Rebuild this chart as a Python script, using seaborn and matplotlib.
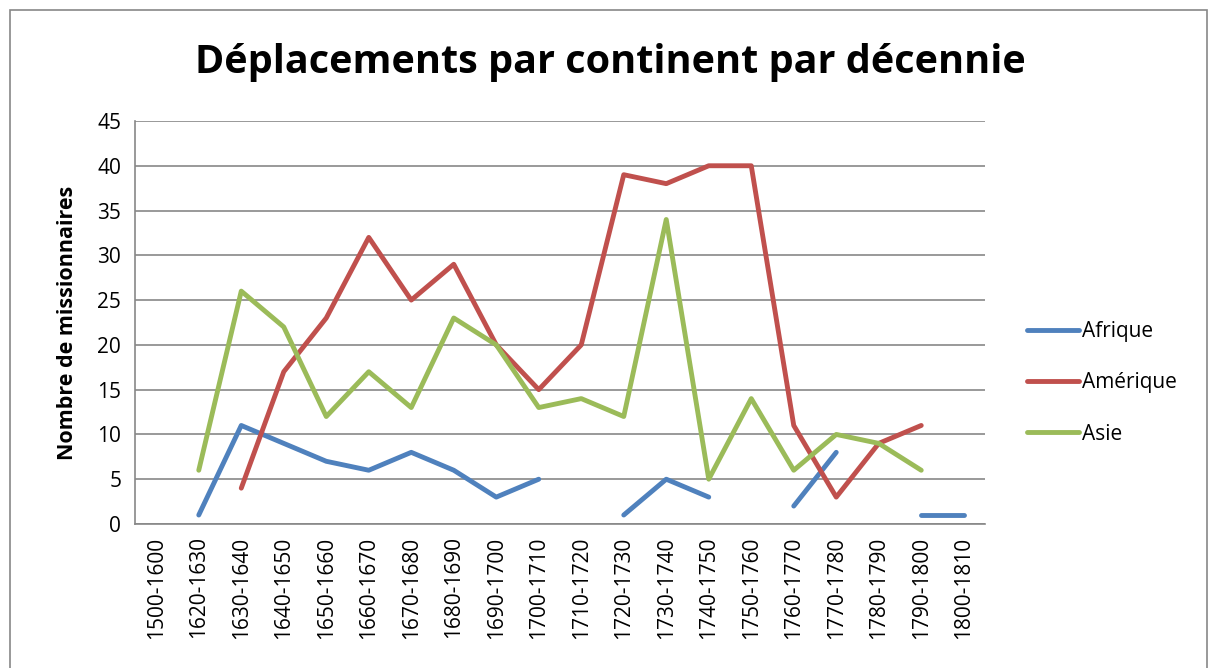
import matplotlib.pyplot as plt
import seaborn as sns
import numpy as np
import pandas as pd
import matplotlib
from matplotlib.patches import Rectangle

# Style de base, puis la police (après set_style, qui remet font.family à zéro)
sns.set_style('white')
matplotlib.rcParams['font.family'] = ['Open Sans', 'DejaVu Sans']
matplotlib.rcParams['text.color'] = 'black'
matplotlib.rcParams['axes.labelcolor'] = 'black'

# Les données
decades = ['1500-1600', '1620-1630', '1630-1640', '1640-1650', '1650-1660',
           '1660-1670', '1670-1680', '1680-1690', '1690-1700', '1700-1710',
           '1710-1720', '1720-1730', '1730-1740', '1740-1750', '1750-1760',
           '1760-1770', '1770-1780', '1780-1790', '1790-1800', '1800-1810']
nan = np.nan
afrique = [nan, 1, 11, 9, 7, 6, 8, 6, 3, 5, nan, 1, 5, 3, nan, 2, 8, nan, 1, 1]
amerique = [nan, nan, 4, 17, 23, 32, 25, 29, 20, 15, 20, 39, 38, 40, 40, 11, 3, 9, 11, nan]
asie = [nan, 6, 26, 22, 12, 17, 13, 23, 20, 13, 14, 12, 34, 5, 14, 6, 10, 9, 6, nan]

series = {'Afrique': afrique, 'Amérique': amerique, 'Asie': asie}
colors = {'Afrique': '#4F81BD', 'Amérique': '#C0504D', 'Asie': '#9BBB59'}

# Format long, avec un numéro de segment pour couper les lignes aux trous
rows = []
for name, values in series.items():
    seg = 0
    for i, v in enumerate(values):
        if np.isnan(v):
            seg += 1
            continue
        rows.append({'pos': i, 'val': v, 'continent': name, 'seg': f'{name}-{seg}'})
df = pd.DataFrame(rows)

fig = plt.figure(figsize=(12.12, 6.68), dpi=100)
ax = fig.add_axes([0.1114, 0.2156, 0.7013, 0.6033])

sns.lineplot(data=df, x='pos', y='val', hue='continent', units='seg',
             estimator=None, palette=colors, linewidth=3.5, ax=ax)

ax.set_xlim(-0.5, len(decades) - 0.5)
ax.set_ylim(0, 45)
ax.set_yticks(range(0, 46, 5))
ax.set_xticks(range(len(decades)))
ax.set_xticklabels(decades, rotation=90, fontsize=15)
ax.set_xticks(np.arange(-0.5, len(decades), 1), minor=True)
ax.tick_params(axis='x', which='major', length=0, pad=9, labelcolor='black')
ax.tick_params(axis='x', which='minor', length=6, color='#878787', direction='out')
ax.tick_params(axis='y', labelsize=15, length=6, color='#878787', direction='out',
               labelcolor='black', pad=4)
ax.yaxis.grid(True, color='#878787', linewidth=1.2)
ax.set_axisbelow(True)
for s in ['top', 'right']:
    ax.spines[s].set_visible(False)
for s in ['left', 'bottom']:
    ax.spines[s].set_color('#878787')
    ax.spines[s].set_linewidth(1.2)

ax.set_xlabel('')
ax.set_ylabel('Nombre de missionnaires', fontsize=15.5, fontweight='bold', labelpad=14)
fig.suptitle('Déplacements par continent par décennie', fontsize=28.5,
             fontweight='bold', x=0.504, y=0.907, va='center')

leg = ax.legend(loc='center left', bbox_to_anchor=(1.027, 0.35), frameon=False,
                fontsize=15, handlelength=2.5, labelspacing=1.45, handletextpad=0.15)
for line in leg.get_lines():
    line.set_linewidth(3.5)

# Cadre gris autour du graphique
fig.patches.append(Rectangle((0.008, -0.01), 0.988, 0.995, transform=fig.transFigure,
                             fill=False, edgecolor='#878787', linewidth=1.2))

plt.savefig('out.png', dpi=100)
